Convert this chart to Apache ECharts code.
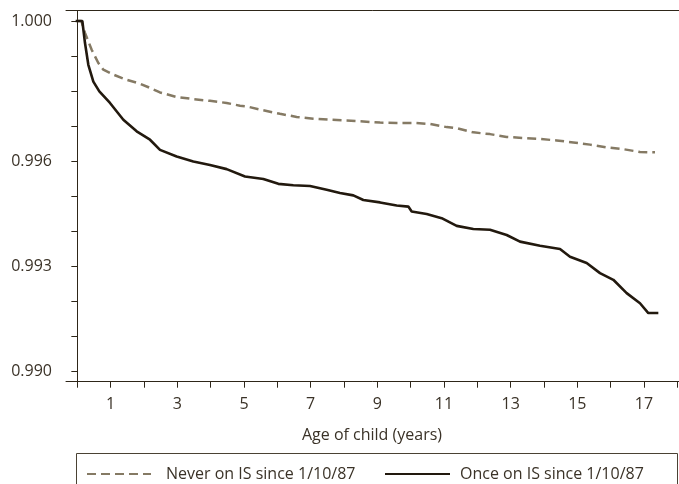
<!DOCTYPE html>
<html>
<head>
<meta charset="utf-8">
<script src="https://cdn.jsdelivr.net/npm/echarts@6/dist/echarts.min.js"></script>
<style>
  html, body { margin: 0; padding: 0; background: #fff; }
  #chart { width: 679px; height: 484px; }
</style>
</head>
<body>
<div id="chart"></div>
<script>
// Survival estimates by age of child (years)
const neverAge = [0, 0.12, 0.23, 0.43, 0.63, 0.78, 1.08, 1.48, 1.88, 2.18, 2.48, 2.98, 3.48, 3.98, 4.48, 4.88,
  5.08, 5.58, 6.08, 6.58, 7.08, 7.58, 8.08, 8.58, 9.08, 9.58, 10.08, 10.58, 11.08, 11.38, 11.88, 12.38,
  12.88, 13.38, 13.88, 14.38, 14.88, 15.38, 15.88, 16.38, 16.88, 17.33];
const neverValues = [1.0, 1.0, 0.99966, 0.99918, 0.9988, 0.99861, 0.99847, 0.99832, 0.99821, 0.99809, 0.99796,
  0.99783, 0.99777, 0.99772, 0.99766, 0.99758, 0.99756, 0.99745, 0.99735, 0.99726, 0.99721, 0.99718,
  0.99716, 0.99713, 0.9971, 0.99709, 0.99709, 0.99706, 0.99697, 0.99694, 0.99682, 0.99677, 0.99669,
  0.99666, 0.99663, 0.99659, 0.99653, 0.99647, 0.99639, 0.99634, 0.99626, 0.99625];

const onceAge = [-0.05, 0.15, 0.23, 0.33, 0.48, 0.66, 0.98, 1.38, 1.78, 2.18, 2.48, 2.98, 3.48, 3.98, 4.48,
  5.03, 5.58, 6.03, 6.48, 6.98, 7.48, 7.88, 8.28, 8.58, 9.08, 9.58, 9.93, 10.03, 10.48, 10.93, 11.38,
  11.88, 12.38, 12.88, 13.28, 13.88, 14.48, 14.78, 15.28, 15.68, 16.08, 16.48, 16.88, 17.13, 17.43];
const onceValues = [1.0, 1.0, 0.99937, 0.99875, 0.99827, 0.99799, 0.99766, 0.99718, 0.99685, 0.99661, 0.99632,
  0.99613, 0.99599, 0.99589, 0.99577, 0.99556, 0.99549, 0.99535, 0.99531, 0.99529, 0.99518, 0.99509,
  0.99502, 0.99489, 0.99482, 0.99473, 0.9947, 0.99456, 0.99449, 0.99437, 0.99415, 0.99406, 0.99404,
  0.99389, 0.9937, 0.99358, 0.99349, 0.99327, 0.99309, 0.9928, 0.99261, 0.99223, 0.99194, 0.99166, 0.99166];

const xTicks = [0, 1, 2, 3, 4, 5, 6, 7, 8, 9, 10, 11, 12, 13, 14, 15, 16, 17, 18];
const xLabels = [1, 3, 5, 7, 9, 11, 13, 15, 17];
const yTicks = [0.990, 0.991, 0.992, 0.993, 0.994, 0.995, 0.996, 0.997, 0.998, 0.999, 1.000];
const yLabels = [0.990, 0.993, 0.996, 1.000];

const seriesNames = ['Never on IS since 1/10/87', 'Once on IS since 1/10/87'];
const xTitle = 'Age of child (years)';

const axisColor = '#2e2619';
const textColor = '#3a3227';
const fontFamily = '"Open Sans", "Noto Sans", sans-serif';

const zip = (xs, ys) => xs.map((x, i) => [x, ys[i]]);

const chart = echarts.init(document.getElementById('chart'), null, { renderer: 'canvas' });
chart.setOption({
  animation: false,
  backgroundColor: '#ffffff',
  textStyle: { fontFamily: fontFamily, color: textColor },
  grid: {
    left: 66, top: 10.5, right: -15, bottom: 102.3,
    outerBoundsMode: 'none', containLabel: false, show: false
  },
  xAxis: [
    {
      type: 'value',
      min: -0.34,
      max: 18.5,
      axisLine: { show: true, lineStyle: { color: axisColor, width: 1 } },
      axisTick: { show: true, length: 6, customValues: xTicks, lineStyle: { color: axisColor } },
      axisLabel: { customValues: xLabels, color: textColor, fontSize: 16, margin: 15, fontFamily: fontFamily },
      splitLine: { show: false }
    },
    {
      // top frame edge
      type: 'value',
      position: 'top',
      min: -0.34,
      max: 18.5,
      axisLine: { show: true, lineStyle: { color: axisColor, width: 1 } },
      axisTick: { show: false },
      axisLabel: { show: false },
      splitLine: { show: false }
    }
  ],
  yAxis: {
    type: 'value',
    min: 0.9897,
    max: 1.0003,
    axisLine: { show: true, lineStyle: { color: axisColor, width: 1 } },
    axisTick: { show: true, length: 6, customValues: yTicks, lineStyle: { color: axisColor } },
    axisLabel: {
      customValues: yLabels, color: textColor, fontSize: 16, margin: 14, fontFamily: fontFamily,
      formatter: v => Number(v).toFixed(3)
    },
    splitLine: { show: false }
  },
  legend: [
    {
      data: [seriesNames[0]],
      left: 81, top: 461,
      itemWidth: 64, itemHeight: 14,
      itemStyle: { opacity: 0 },
      textStyle: { fontSize: 16, color: textColor, fontFamily: fontFamily, padding: [0, 0, 0, 10] }
    },
    {
      data: [seriesNames[1]],
      left: 379, top: 461,
      itemWidth: 65, itemHeight: 14,
      itemStyle: { opacity: 0 },
      textStyle: { fontSize: 16, color: textColor, fontFamily: fontFamily, padding: [0, 0, 0, 5] }
    }
  ],
  graphic: [
    {
      type: 'rect',
      shape: { x: 76.5, y: 453.5, width: 601, height: 60 },
      style: { fill: 'none', stroke: '#4a4234', lineWidth: 1 },
      silent: true
    },
    {
      type: 'text',
      x: 372, y: 435,
      style: {
        text: xTitle, fill: textColor, fontSize: 16, fontFamily: fontFamily,
        align: 'center', verticalAlign: 'middle'
      }
    }
  ],
  series: [
    {
      name: seriesNames[0],
      type: 'line',
      data: zip(neverAge, neverValues),
      showSymbol: false,
      symbol: 'none',
      lineStyle: { color: '#857a64', width: 2.5, type: [9, 5] },
      itemStyle: { color: '#857a64' }
    },
    {
      name: seriesNames[1],
      type: 'line',
      data: zip(onceAge, onceValues),
      showSymbol: false,
      symbol: 'none',
      lineStyle: { color: '#22190e', width: 2.6 },
      itemStyle: { color: '#22190e' }
    }
  ]
});
</script>
</body>
</html>
